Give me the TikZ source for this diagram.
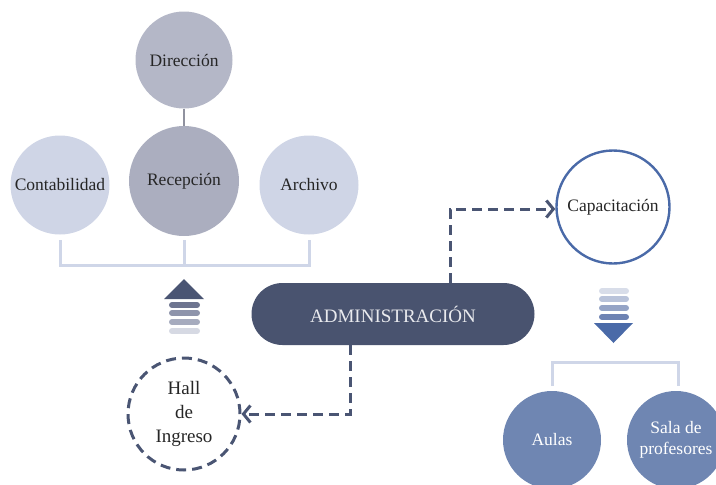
\documentclass[tikz,border=0pt]{standalone}
\usepackage{fontspec}
\setmainfont{Liberation Serif}
\usetikzlibrary{arrows.meta}
\definecolor{lightc}{HTML}{CFD5E6}
\definecolor{midc}{HTML}{B4B7C7}
\definecolor{recc}{HTML}{ABAEBF}
\definecolor{brk}{HTML}{CFD6E8}
\definecolor{adm}{HTML}{49536F}
\definecolor{dsh}{HTML}{4A5573}
\definecolor{capb}{HTML}{4A6AA8}
\definecolor{aul}{HTML}{6F86B2}
\definecolor{txt}{HTML}{262626}
\tikzset{
  circ/.style={circle, inner sep=0pt, font=\fontsize{17.5}{21}\selectfont, text=txt, align=center},
  brline/.style={draw=brk, line width=3pt},
  dline/.style={draw=dsh, line width=3pt, dash pattern=on 10pt off 6pt, -{Straight Barb[length=7pt,width=17pt,line width=3pt]}},
}
\begin{document}
\begin{tikzpicture}[x=1pt,y=-1pt]
\useasboundingbox (0,0) rectangle (716,485);
% top group
\node[circ, fill=midc, minimum size=97pt] (dir) at (184,60) {Dirección};
\draw[draw=midc!80!black, line width=2pt] (dir.south) -- (184,130);
\node[circ, fill=recc, minimum size=110pt] (rec) at (184,181) {Recepción};
\node[circ, fill=lightc, minimum size=99pt] (con) at (60,185) {Contabilidad};
\node[circ, fill=lightc, minimum size=99pt] (arc) at (309,185) {Archivo};
\coordinate (b1) at (60,265);
\coordinate (b2) at (184,265);
\coordinate (b3) at (309,265);
\draw[brline] (60,240) -- (b1) -- (b3) -- (309,240);
\draw[brline] (184,240) -- (b2);
% up arrow
\fill[dsh] (164,299) -- (184,279) -- (204,299) -- cycle;
\foreach \yy/\cc in {305/6E7590,313/8E94AB,322/A6ABBE,331/D6D9E3}{
  \definecolor{tmp}{HTML}{\cc}
  \draw[tmp, line width=6pt, line cap=round] (172,\yy) -- (197,\yy);
}
% administration
\node[fill=adm, rounded corners=31pt, minimum width=283pt, minimum height=62pt, text=white!88!adm, font=\fontsize{19}{22}\selectfont] (adm) at (393,314) {ADMINISTRACIÓN};
% hall
\node[circ, draw=dsh, line width=3pt, dash pattern=on 10pt off 6pt, minimum size=112pt, font=\fontsize{19}{24}\selectfont] (hall) at (184,414) {Hall\\de\\Ingreso};
% capacitación
\node[circ, draw=capb, line width=2.4pt, fill=white, minimum size=113pt] (cap) at (613,207) {Capacitación};
% dashed connectors
\coordinate (k1) at (350,414);
\draw[dline] (adm.south -| k1) -- (k1) -- (hall.east);
\coordinate (k2) at (450,209);
\draw[dline] (adm.north -| k2) -- (k2) -- (cap.west |- k2);
% down arrow
\foreach \yy/\cc in {291/D8DDE9,299/B9C3DA,308/95A4C6,317/6E83B3}{
  \definecolor{tmp}{HTML}{\cc}
  \draw[tmp, line width=6pt, line cap=round] (602,\yy) -- (626,\yy);
}
\fill[capb] (594,323) -- (633,323) -- (613.5,343) -- cycle;
% bottom bracket
\coordinate (c1) at (552,362);
\coordinate (c2) at (678,362);
\draw[brline] (552,386) -- (c1) -- (c2) -- (678,386);
\node[circ, fill=aul, minimum size=98pt, text=white] (aul) at (552,440) {Aulas};
\node[circ, fill=aul, minimum size=98pt, text=white] (sal) at (676,440) {Sala de\\profesores};
\end{tikzpicture}
\end{document}
